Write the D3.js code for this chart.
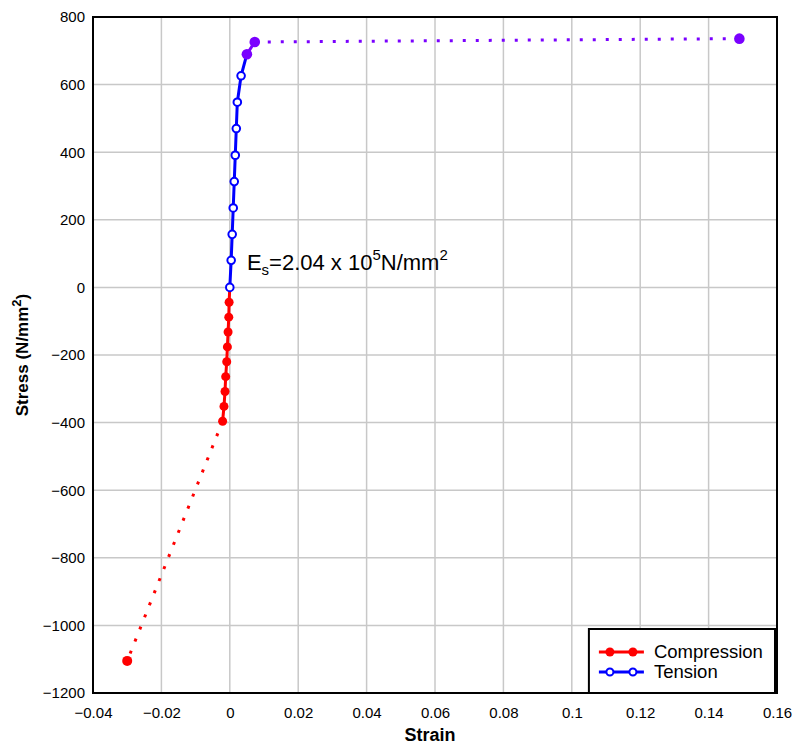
<!DOCTYPE html>
<html>
<head>
<meta charset="utf-8">
<script src="https://cdn.jsdelivr.net/npm/d3@7"></script>
<style>
  body { margin: 0; background: #fff; }
  svg text { font-family: "Liberation Sans", Arial, sans-serif; fill: #000; }
</style>
</head>
<body>
<svg id="chart" width="794" height="745"></svg>
<script>
// data
var compStrain = [0, -0.0002, -0.0003, -0.0005, -0.0007, -0.0009, -0.0012, -0.0014, -0.0017, -0.0021];
var compStress = [0, -44, -88, -132, -176, -220, -264, -308, -352, -396];

var tensStrain = [0, 0.0004, 0.0007, 0.0010, 0.0013, 0.0016, 0.0019, 0.0022, 0.0033];
var tensStress = [0, 80, 157, 235, 313, 391, 470, 548, 626];

// yield points (purple)
var yieldStrain = [0.0050, 0.0073];
var yieldStress = [690, 726];

// dotted extensions
var compExtStrain = [-0.0021, -0.03];
var compExtStress = [-396, -1105];
var plateauStrain = [0.0073, 0.149];
var plateauStress = [726, 736];

var xTicks = [-0.04, -0.02, 0, 0.02, 0.04, 0.06, 0.08, 0.1, 0.12, 0.14, 0.16];
var yTicks = [-1200, -1000, -800, -600, -400, -200, 0, 200, 400, 600, 800];

var red = "#ff0000", blue = "#0000ff", purple = "#7a00ff";

var svg = d3.select("#chart");
var margin = {top: 17, right: 17, bottom: 52, left: 93};
var width = 794 - margin.left - margin.right,
    height = 745 - margin.top - margin.bottom;

var x = d3.scaleLinear().domain([-0.04, 0.16]).range([0, width]);
var y = d3.scaleLinear().domain([-1200, 800]).range([height, 0]);

var g = svg.append("g").attr("transform", "translate(" + margin.left + "," + margin.top + ")");

function pts(xs, ys) { return xs.map(function (v, i) { return [v, ys[i]]; }); }
var line = d3.line().x(function (d) { return x(d[0]); }).y(function (d) { return y(d[1]); });

// grid
g.append("g").selectAll("line").data(xTicks).enter().append("line")
  .attr("x1", function (d) { return x(d); }).attr("x2", function (d) { return x(d); })
  .attr("y1", 0).attr("y2", height)
  .attr("stroke", "#c8c8c8").attr("stroke-width", 1.5);
g.append("g").selectAll("line").data(yTicks).enter().append("line")
  .attr("y1", function (d) { return y(d); }).attr("y2", function (d) { return y(d); })
  .attr("x1", 0).attr("x2", width)
  .attr("stroke", "#c8c8c8").attr("stroke-width", 1.5);

// axes (labels only)
var xAxis = g.append("g").attr("transform", "translate(0," + height + ")")
  .call(d3.axisBottom(x).tickValues(xTicks).tickSize(0).tickPadding(14).tickFormat(d3.format("")));
var yAxis = g.append("g")
  .call(d3.axisLeft(y).tickValues(yTicks).tickSize(0).tickPadding(8).tickFormat(d3.format("")));
[xAxis, yAxis].forEach(function (a) {
  a.select(".domain").remove();
  a.selectAll("text").attr("font-size", 15).attr("font-family", "Liberation Sans, Arial, sans-serif").attr("fill", "#000");
});

// dotted extensions
g.append("path").datum(pts(compExtStrain, compExtStress)).attr("d", line)
  .attr("fill", "none").attr("stroke", red).attr("stroke-width", 3).attr("stroke-dasharray", "3 10");
g.append("path").datum(pts(plateauStrain, plateauStress)).attr("d", line)
  .attr("fill", "none").attr("stroke", purple).attr("stroke-width", 3).attr("stroke-dasharray", "3 10");

// compression
g.append("path").datum(pts(compStrain, compStress)).attr("d", line)
  .attr("fill", "none").attr("stroke", red).attr("stroke-width", 3);
g.append("g").selectAll("circle").data(pts(compStrain, compStress).slice(1)).enter().append("circle")
  .attr("cx", function (d) { return x(d[0]); }).attr("cy", function (d) { return y(d[1]); })
  .attr("r", 4.5).attr("fill", red);
g.append("circle").attr("cx", x(compExtStrain[1])).attr("cy", y(compExtStress[1])).attr("r", 5).attr("fill", red);

// tension line up to first yield point
g.append("path").datum(pts(tensStrain, tensStress).concat([[yieldStrain[0], yieldStress[0]]])).attr("d", line)
  .attr("fill", "none").attr("stroke", blue).attr("stroke-width", 3);
g.append("path").datum(pts(yieldStrain, yieldStress)).attr("d", line)
  .attr("fill", "none").attr("stroke", purple).attr("stroke-width", 3);
g.append("g").selectAll("circle").data(pts(tensStrain, tensStress)).enter().append("circle")
  .attr("cx", function (d) { return x(d[0]); }).attr("cy", function (d) { return y(d[1]); })
  .attr("r", 3.8).attr("fill", "#fff").attr("stroke", blue).attr("stroke-width", 2);
g.append("g").selectAll("circle").data(pts(yieldStrain, yieldStress)).enter().append("circle")
  .attr("cx", function (d) { return x(d[0]); }).attr("cy", function (d) { return y(d[1]); })
  .attr("r", 5.3).attr("fill", purple);
g.append("circle").attr("cx", x(plateauStrain[1])).attr("cy", y(plateauStress[1])).attr("r", 5.3).attr("fill", purple);

// annotation
var ann = g.append("text").attr("x", x(0.005)).attr("y", y(0) - 17).attr("font-size", 22);
ann.append("tspan").text("E");
ann.append("tspan").attr("dy", 5).attr("font-size", 15).text("s");
ann.append("tspan").attr("dy", -5).text("=2.04 x 10");
ann.append("tspan").attr("dy", -10).attr("font-size", 15).text("5");
ann.append("tspan").attr("dy", 10).text("N/mm");
ann.append("tspan").attr("dy", -10).attr("font-size", 15).text("2");

// plot frame
g.append("rect").attr("width", width).attr("height", height)
  .attr("fill", "none").attr("stroke", "#000").attr("stroke-width", 2);

// axis titles
g.append("text").attr("x", width / 2 - 5).attr("y", height + 48).attr("text-anchor", "middle")
  .attr("font-size", 18).attr("font-weight", "bold").text("Strain");
var yt = g.append("text").attr("transform", "translate(" + (-65) + "," + (height / 2) + ") rotate(-90)")
  .attr("text-anchor", "middle").attr("font-size", 17).attr("font-weight", "bold");
yt.append("tspan").text("Stress (N/mm");
yt.append("tspan").attr("dy", -7).attr("font-size", 13).text("2");
yt.append("tspan").attr("dy", 7).text(")");

// legend
var lx = x(0.105), ly = 612;
var legend = g.append("g").attr("transform", "translate(" + lx + "," + ly + ")");
var lw = width - lx - 2, lh = height - ly;
legend.append("rect").attr("width", lw).attr("height", lh)
  .attr("fill", "#fff").attr("stroke", "#000").attr("stroke-width", 2);
var items = [{name: "Compression", color: red, open: false}, {name: "Tension", color: blue, open: true}];
var li = legend.selectAll("g.item").data(items).enter().append("g")
  .attr("class", "item").attr("transform", function (d, i) { return "translate(0," + (23 + i * 20) + ")"; });
li.append("line").attr("x1", 10).attr("x2", 55).attr("stroke", function (d) { return d.color; }).attr("stroke-width", 3);
[21, 44].forEach(function (cx) {
  li.append("circle").attr("cx", cx).attr("r", function (d) { return d.open ? 3.5 : 4.5; })
    .attr("fill", function (d) { return d.open ? "#fff" : d.color; })
    .attr("stroke", function (d) { return d.open ? d.color : "none"; }).attr("stroke-width", 2);
});
li.append("text").attr("x", 65).attr("dy", "0.35em").attr("font-size", 18.5).text(function (d) { return d.name; });
</script>
</body>
</html>
